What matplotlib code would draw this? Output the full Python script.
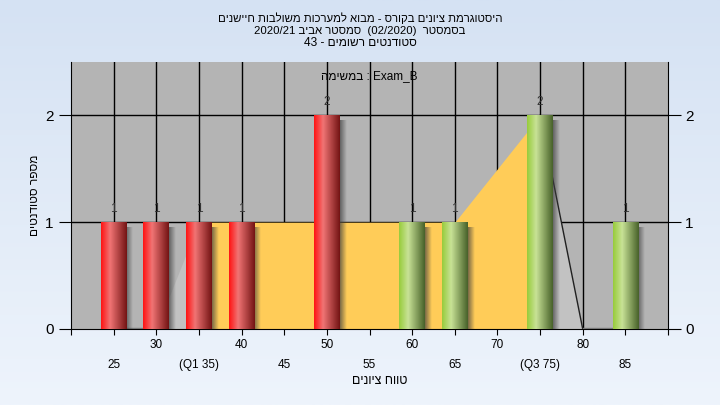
import matplotlib
matplotlib.use('Agg')
import matplotlib.pyplot as plt
import numpy as np
from matplotlib.colors import LinearSegmentedColormap

plt.rcParams['font.family'] = ['Liberation Sans', 'DejaVu Sans']

# histogram data
grades = [25, 30, 35, 40, 45, 50, 55, 60, 65, 70, 75, 80, 85]
counts = [1, 1, 1, 1, 0, 2, 0, 1, 1, 0, 2, 0, 1]
pass_grade = 55

# background area series (yellow between Q1 and Q3)
area_x = [25, 30, 35, 40, 45, 50, 55, 60, 65, 75, 80, 85]
area_y = [0, 0, 1, 1, 1, 1, 1, 1, 1, 2, 0, 0]
q1, q3 = 35, 75

upper_ticks = [30, 40, 50, 60, 70, 80]
lower_ticks = [25, 35, 45, 55, 65, 75, 85]
lower_labels = ['25', '(Q1 35)', '45', '55', '65', '(Q3 75)', '85']

title1 = 'היסטוגרמת ציונים בקורס - מבוא למערכות משולבות חיישנים'
title2 = ('2020/21', 'סמסטר אביב', '(02/2020)', 'בסמסטר')
title3 = ('43 -', 'סטודנטים רשומים')
exam_txt = ('במשימה', ': Exam_B')
xlab = 'טווח ציונים'
ylab = 'מספר סטודנטים'


def heb(s):
    # matplotlib has no bidi, so write hebrew in visual order
    return s[::-1]


fig = plt.figure(figsize=(7.2, 4.05), dpi=100)

# figure background gradient
bg = fig.add_axes([0, 0, 1, 1], zorder=-10)
grad = np.linspace(0, 1, 256).reshape(-1, 1)
bgmap = LinearSegmentedColormap.from_list('bg', ['#d5e2f3', '#eef4fc'])
bg.imshow(grad, aspect='auto', cmap=bgmap, extent=[0, 1, 0, 1], origin='upper')
bg.axis('off')

ax = fig.add_axes([71 / 720, 1 - 329 / 405, 597 / 720, 267 / 405])
ax.set_facecolor('#b4b4b4')
ax.set_xlim(20, 90)
ax.set_ylim(0, 2.5)

# grid
for g in range(25, 90, 5):
    ax.axvline(g, color='black', lw=1, zorder=1)
for g in [1, 2]:
    ax.axhline(g, color='black', lw=1, zorder=1)

# area
xs = np.linspace(25, 85, 1201)
ys = np.interp(xs, np.array(area_x, float), np.array(area_y, float))
ax.fill_between(xs, 0, ys, where=(xs <= q1 + 0.01), color='#c2c2c2', lw=0, zorder=2)
ax.fill_between(xs, 0, ys, where=(xs >= q3 - 0.01), color='#c2c2c2', lw=0, zorder=2)
ax.fill_between(xs, 0, ys, where=(xs >= q1) & (xs <= q3), color='#ffcc58', lw=0, zorder=2)
ax.plot(area_x[-3:-1], area_y[-3:-1], color='#202020', lw=1, zorder=2.5)
ax.plot(area_x[-2:], [0.01, 0.01], color='#808080', lw=1, zorder=2.5)
ax.plot(area_x[:2], [0.01, 0.01], color='#808080', lw=1, zorder=2.5)

red = LinearSegmentedColormap.from_list('r', [(0, '#ff1414'), (0.35, '#f07474'), (1, '#741414')])
green = LinearSegmentedColormap.from_list('g', [(0, '#98cc3c'), (0.35, '#c8e296'), (1, '#48622a')])

w = 3.0
sh = np.zeros((1, 32, 4))
sh[..., 0:3] = 0.25
sh[0, :, 3] = np.linspace(0.7, 0, 32)
hgrad = np.linspace(0, 1, 64).reshape(1, -1)
for g, c in zip(grades, counts):
    if c == 0:
        continue
    cmap = red if g < pass_grade else green
    # shadow
    ax.imshow(sh, extent=[g + w / 2, g + w / 2 + 0.75, 0, c - 0.05],
              aspect='auto', zorder=2.8)
    ax.imshow(hgrad, cmap=cmap, extent=[g - w / 2, g + w / 2, 0, c],
              aspect='auto', zorder=3)
    ax.text(g, c + 0.07, str(c), ha='center', va='bottom', fontsize=8.5,
            color='#333333', zorder=4)

ax.set_xlim(20, 90)
ax.set_ylim(0, 2.5)

ax.text(55, 2.37, heb(exam_txt[0]) + ' ' + exam_txt[1], ha='center', va='center',
        fontsize=8.5, color='black', zorder=4)

# axes ticks
ax.set_xticks(range(20, 95, 5))
labels = []
for t in range(20, 95, 5):
    if t in upper_ticks:
        labels.append(str(t))
    elif t in lower_ticks:
        labels.append('\n' + lower_labels[lower_ticks.index(t)])
    else:
        labels.append('')
ax.set_xticklabels(labels, fontsize=8.5, linespacing=1.9)
ax.tick_params(axis='x', length=4, color='black', pad=3)
ax.set_yticks([0, 1, 2])
ax.tick_params(axis='y', which='both', left=True, right=True, labelleft=True,
               labelright=True, direction='out', length=9, labelsize=11)
for s in ['left', 'right', 'bottom']:
    ax.spines[s].set_color('black')
ax.spines['top'].set_visible(False)

fig.text(0.5, 1 - 18 / 405, heb(title1), ha='center', va='center', fontsize=8.2)
fig.text(0.5, 1 - 30.5 / 405, title2[0] + ' ' + heb(title2[1]) + '  ' + title2[2] + '  ' + heb(title2[3]),
         ha='center', va='center', fontsize=8.2)
fig.text(0.5, 1 - 43 / 405, title3[0] + ' ' + heb(title3[1]), ha='center', va='center', fontsize=8.6)
fig.text(380 / 720, 1 - 381 / 405, heb(xlab), ha='center', va='center', fontsize=9)
fig.text(35 / 720, 1 - 195 / 405, heb(ylab), ha='center', va='center', fontsize=8.6, rotation=90)

fig.savefig('out.png', dpi=100)
